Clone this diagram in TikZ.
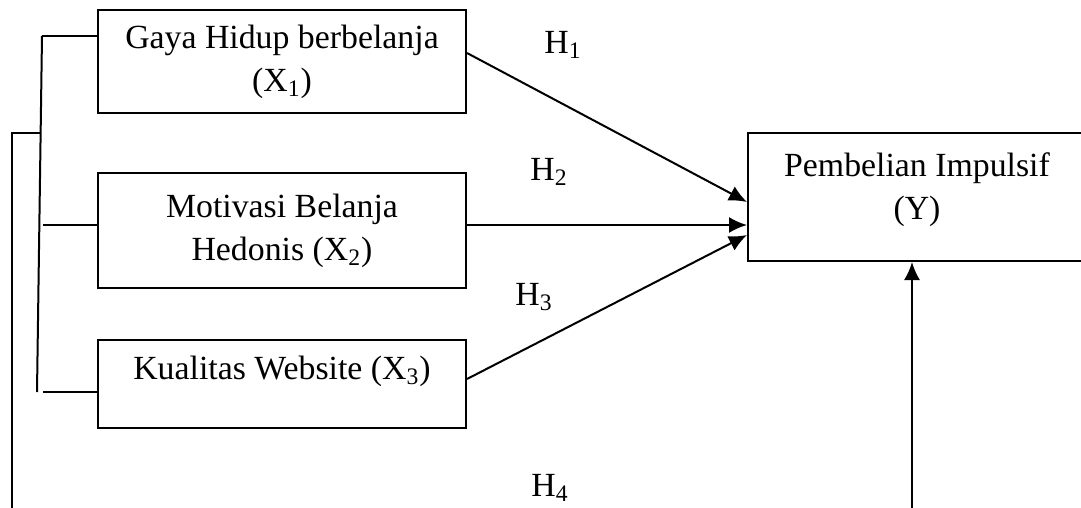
\documentclass[tikz,border=0pt]{standalone}
\usepackage{fontspec}
\setmainfont{Liberation Serif}
\usepackage{tikz}
\usetikzlibrary{arrows.meta,calc,positioning}
\tikzset{>={Latex[length=9pt,width=8pt]}}
\tikzset{
  % box round each variable
  varbox/.style={draw, align=center, inner sep=0pt},
  % hypothesis labels on the paths
  hyp/.style={inner sep=0pt},
}

\begin{document}
\begin{tikzpicture}[x=0.5pt,y=-0.5pt,line width=1pt,font=\fontsize{16.9}{21.5}\selectfont]
                \clip (0,0) rectangle (1081,508);

                \node[varbox, minimum width=184pt, minimum height=51.5pt] (x1) at (282,61.5) {Gaya Hidup berbelanja\\(X\textsubscript{1})};
                \node[varbox, minimum width=184pt, minimum height=57.5pt] (x2) at (282,230.5) {Motivasi Belanja\\Hedonis (X\textsubscript{2})};
                \node[varbox, minimum width=184pt, minimum height=44pt, text depth=16pt] (x3) at (282,384) {Kualitas Website (X\textsubscript{3})};
                \node[varbox, minimum width=169pt, minimum height=64pt, text depth=11pt] (y) at (917,197) {Pembelian Impulsif\\(Y)};

                \draw[->] ([yshift=4.25pt]x1.east) -- ([yshift=-2.5pt]y.west);
                \draw[->] ([yshift=2.75pt]x2.east) -- ([yshift=2.75pt]x2.east -| y.west);
                \draw[->] ([yshift=2.5pt]x3.east) -- ([yshift=-19pt]y.west);

                \node[hyp] (h1) at (563,45) {H\textsubscript{1}};
                \node[hyp] (h2) at (549,172) {H\textsubscript{2}};
                \node[hyp] (h3) at (534,297) {H\textsubscript{3}};
                \node[hyp] (h4) at (550,488) {H\textsubscript{4}};

                % inner bracket joining X1, X2, X3
                \coordinate (lt) at (42,36);
                \coordinate (lb) at (37,392);
                \draw (lt) -- (lb);
                \draw (lt) -- (lt -| x1.west);
                \draw (43,225) -- (x2.west |- 0,225);
                \draw (43,392) -- (x3.west |- 0,392);

                % outer line to the last arrow
                \coordinate (ot) at (12,133);
                \coordinate (ob) at (12,520);
                \coordinate (ub) at (912,520);
                \draw (41,133) -- (ot) -- (ob);
                \draw[->] (ub) -- (ub |- y.south);
\end{tikzpicture}
\end{document}
